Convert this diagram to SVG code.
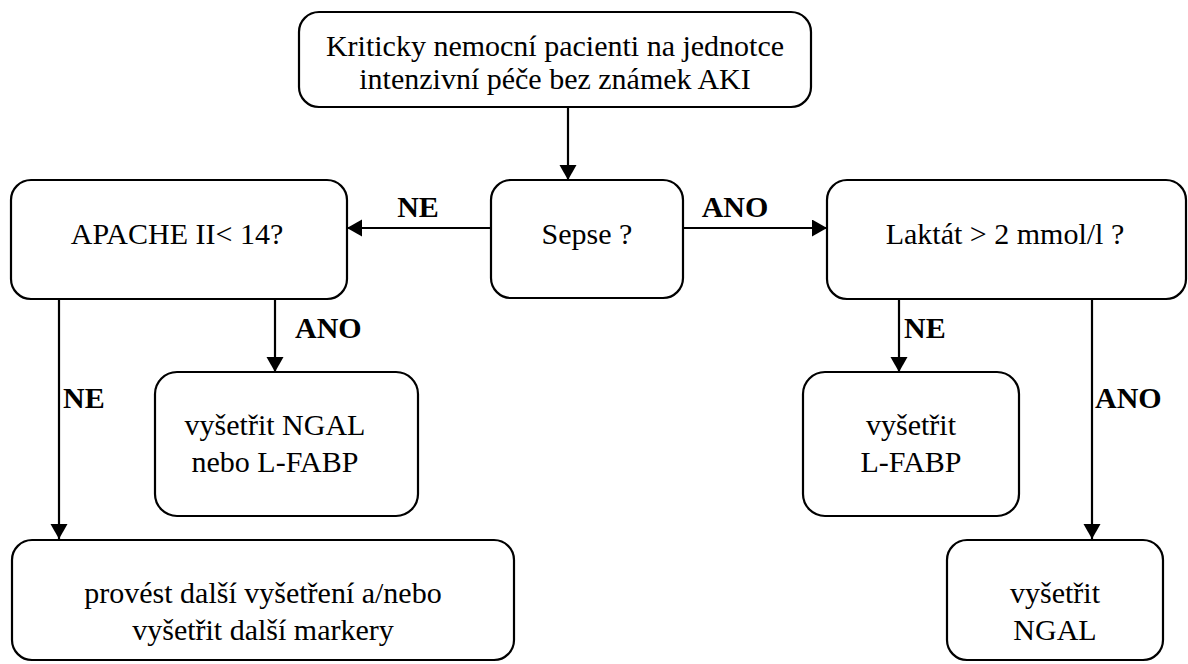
<svg xmlns="http://www.w3.org/2000/svg" width="1188" height="664" viewBox="0 0 1188 664">
<style>
.box{fill:#fff;stroke:#000;stroke-width:2.2}
text{font-family:'Liberation Serif','Times New Roman',serif;font-size:30px;fill:#000}
.t{text-anchor:middle}
.b{font-weight:bold}
.c{stroke:#000;stroke-width:2.2;fill:none;marker-end:url(#ah)}
</style>
<defs>
<marker id="ah" markerUnits="userSpaceOnUse" markerWidth="16" markerHeight="18" refX="15" refY="8.5" orient="auto">
<path d="M0,0 L15,8.5 L0,17 Z" fill="#000"/>
</marker>
</defs>
<rect width="1188" height="664" fill="#fff"/>
<g id="connectors">
<line class="c" x1="568" y1="107" x2="568" y2="180"/>
<line class="c" x1="491" y1="228" x2="347" y2="228"/>
<line class="c" x1="683" y1="228" x2="827" y2="228"/>
<line class="c" x1="59" y1="299" x2="59" y2="539"/>
<line class="c" x1="275" y1="299" x2="275" y2="372"/>
<line class="c" x1="899" y1="299" x2="899" y2="372"/>
<line class="c" x1="1092" y1="299" x2="1092" y2="539"/>
<text class="b t" x="418" y="217">NE</text>
<text class="b t" x="735" y="217">ANO</text>
<text class="b" x="295" y="338">ANO</text>
<text class="b" x="63" y="408">NE</text>
<text class="b" x="904" y="338">NE</text>
<text class="b" x="1095" y="408">ANO</text>
</g>
<g id="n-start">
<rect class="box" x="299" y="12" width="512" height="95" rx="20"/>
<text class="t" x="555" y="56">Kriticky nemocní pacienti na jednotce</text>
<text class="t" x="555" y="89">intenzivní péče bez známek AKI</text>
</g>
<g id="n-sepse">
<rect class="box" x="491" y="180" width="192" height="118" rx="20"/>
<text class="t" x="587" y="244">Sepse ?</text>
</g>
<g id="n-apache">
<rect class="box" x="11" y="180" width="336" height="119" rx="20"/>
<text class="t" x="177" y="244">APACHE II&lt; 14?</text>
</g>
<g id="n-laktat">
<rect class="box" x="827" y="180" width="359" height="119" rx="20"/>
<text class="t" x="1005" y="244">Laktát &gt; 2 mmol/l ?</text>
</g>
<g id="n-ngal-lfabp">
<rect class="box" x="155" y="372" width="263" height="144" rx="22"/>
<text class="t" x="275" y="435">vyšetřit NGAL</text>
<text class="t" x="275" y="472">nebo L-FABP</text>
</g>
<g id="n-dalsi">
<rect class="box" x="12" y="540" width="502" height="120" rx="20"/>
<text class="t" x="263" y="603">provést další vyšetření a/nebo</text>
<text class="t" x="263" y="640">vyšetřit další markery</text>
</g>
<g id="n-lfabp">
<rect class="box" x="803" y="372" width="216" height="144" rx="22"/>
<text class="t" x="911" y="435">vyšetřit</text>
<text class="t" x="911" y="472">L-FABP</text>
</g>
<g id="n-ngal">
<rect class="box" x="947" y="540" width="216" height="120" rx="20"/>
<text class="t" x="1055" y="603">vyšetřit</text>
<text class="t" x="1055" y="640">NGAL</text>
</g>
</svg>
